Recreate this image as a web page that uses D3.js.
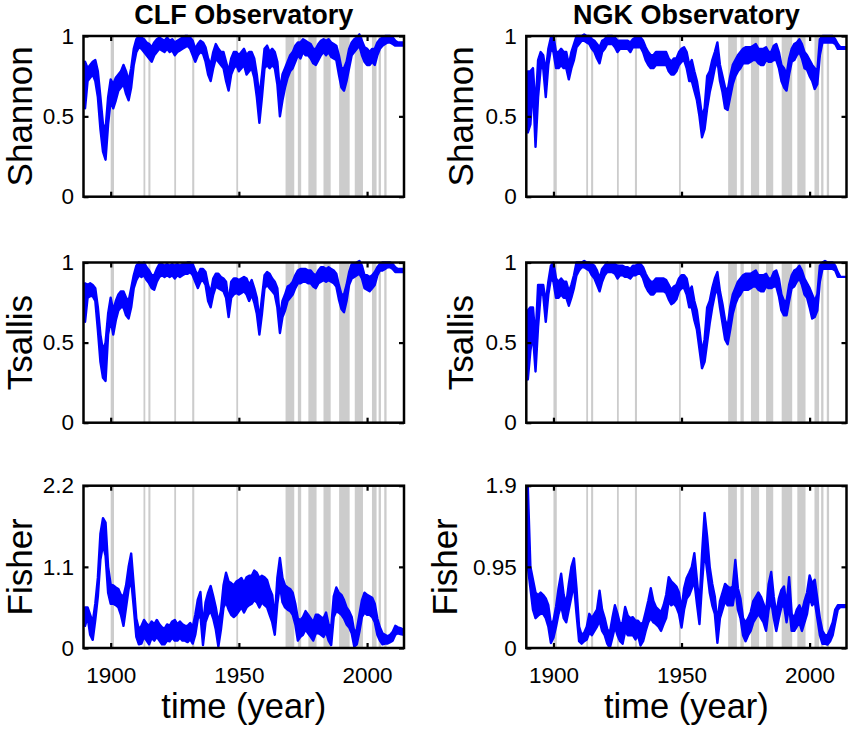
<!DOCTYPE html>
<html><head><meta charset="utf-8">
<script src="https://cdn.jsdelivr.net/npm/d3@7"></script>
<style>
html,body{margin:0;padding:0;background:#fff;}
svg{display:block;font-family:"Liberation Sans",Arial,Helvetica,sans-serif;}
</style>
</head><body>
<svg id="chart" width="851" height="736"></svg>
<script>
// ---------------- data ----------------
const observatories = ["CLF Observatory", "NGK Observatory"];
const measures = ["Shannon", "Tsallis", "Fisher"];
const firstYear = 1890, lastYear = 2014;          // yearly samples of the envelope
const xTicks = [1900, 1950, 2000];
const xDomain = [1889.4, 2014.4];
const yTicksEntropy = [0, 0.5, 1];
const yTicksFisherCLF = [0, 1.1, 2.2];
const yTicksFisherNGK = [0, 0.95, 1.9];

// shaded event intervals [start, end] (years)
const bands = [[1900.0,1901.3],[1912.8,1913.5],[1914.7,1915.5],[1924.8,1925.5],[1931.8,1932.6],
  [1949.0,1949.7],[1968.2,1971.6],[1973.0,1974.3],[1977.1,1980.3],[1983.0,1985.8],
  [1989.1,1993.2],[1995.2,1998.4],[2001.9,2003.7],[2004.5,2005.4],[2006.7,2007.6]];

// CLF Shannon (upper / lower envelope, 1890..2014)
const clfShannonHi = [0.84,0.80,0.82,0.84,0.85,0.78,0.62,0.45,0.42,0.62,
 0.73,0.70,0.74,0.76,0.78,0.82,0.78,0.72,0.80,0.92,
 0.98,1.00,0.99,0.98,0.96,0.95,0.93,0.96,0.98,0.99,
 0.98,0.97,0.99,0.97,0.98,0.96,0.97,0.98,0.99,1.00,
 1.00,0.99,0.97,0.92,0.95,0.97,0.96,0.93,0.86,0.82,
 0.90,0.95,0.92,0.90,0.90,0.84,0.78,0.86,0.90,0.90,
 0.88,0.90,0.92,0.88,0.90,0.90,0.86,0.76,0.62,0.76,
 0.92,0.94,0.90,0.92,0.90,0.84,0.66,0.76,0.80,0.84,
 0.88,0.90,0.94,0.96,0.96,0.98,0.97,0.96,0.95,0.92,
 0.92,0.95,0.97,0.98,0.97,0.98,0.96,0.95,0.94,0.88,
 0.80,0.80,0.84,0.92,0.96,0.98,0.99,1.01,0.97,0.93,
 0.92,0.90,0.92,0.92,0.96,0.98,0.99,1.00,1.00,1.00,
 0.99,0.97,0.96,0.96,0.96];
const clfShannonLo = [0.55,0.72,0.74,0.76,0.72,0.62,0.42,0.28,0.23,0.45,
 0.60,0.55,0.60,0.66,0.68,0.70,0.64,0.60,0.68,0.82,
 0.90,0.93,0.92,0.90,0.88,0.86,0.84,0.88,0.90,0.92,
 0.91,0.90,0.92,0.90,0.91,0.88,0.90,0.91,0.92,0.93,
 0.94,0.92,0.88,0.84,0.88,0.90,0.89,0.84,0.76,0.72,
 0.80,0.86,0.84,0.82,0.80,0.72,0.66,0.76,0.80,0.82,
 0.78,0.80,0.82,0.76,0.78,0.80,0.74,0.62,0.46,0.62,
 0.80,0.82,0.80,0.82,0.80,0.70,0.50,0.60,0.68,0.74,
 0.78,0.80,0.84,0.88,0.86,0.90,0.88,0.88,0.86,0.83,
 0.82,0.85,0.88,0.90,0.88,0.90,0.87,0.86,0.85,0.76,
 0.68,0.66,0.72,0.80,0.88,0.90,0.92,0.94,0.88,0.84,
 0.82,0.82,0.84,0.82,0.88,0.92,0.94,0.95,0.96,0.96,
 0.95,0.94,0.94,0.94,0.94];

// CLF Tsallis
const clfTsallisHi = [0.87,0.86,0.87,0.86,0.84,0.72,0.55,0.45,0.50,0.68,
 0.78,0.70,0.76,0.80,0.82,0.82,0.78,0.76,0.84,0.92,
 0.98,1.00,0.99,1.00,0.97,0.95,0.92,0.92,0.96,0.99,
 0.99,0.98,0.99,0.98,0.99,0.98,0.99,0.98,0.99,0.99,
 1.00,1.00,0.99,0.95,0.92,0.96,0.96,0.94,0.86,0.81,
 0.90,0.93,0.93,0.91,0.90,0.88,0.75,0.88,0.90,0.90,
 0.89,0.90,0.91,0.90,0.86,0.89,0.84,0.78,0.64,0.78,
 0.92,0.94,0.93,0.90,0.88,0.84,0.65,0.76,0.80,0.85,
 0.86,0.88,0.92,0.95,0.96,0.96,0.96,0.95,0.95,0.93,
 0.92,0.95,0.97,0.97,0.96,0.97,0.96,0.95,0.93,0.86,
 0.80,0.80,0.86,0.94,0.99,0.99,1.00,1.01,0.98,0.92,
 0.92,0.91,0.92,0.94,0.97,0.99,1.00,1.00,1.00,1.00,
 0.99,0.97,0.96,0.96,0.96];
const clfTsallisLo = [0.63,0.78,0.79,0.79,0.76,0.58,0.38,0.28,0.26,0.55,
 0.64,0.55,0.64,0.70,0.72,0.72,0.67,0.65,0.72,0.84,
 0.89,0.92,0.91,0.92,0.89,0.87,0.84,0.83,0.88,0.91,
 0.92,0.91,0.92,0.91,0.92,0.90,0.92,0.91,0.92,0.93,
 0.93,0.94,0.92,0.88,0.84,0.88,0.89,0.86,0.76,0.72,
 0.80,0.85,0.84,0.83,0.82,0.78,0.66,0.78,0.80,0.81,
 0.80,0.81,0.82,0.80,0.76,0.80,0.75,0.68,0.55,0.68,
 0.84,0.86,0.84,0.82,0.80,0.72,0.56,0.66,0.70,0.76,
 0.78,0.80,0.84,0.87,0.87,0.88,0.88,0.87,0.87,0.85,
 0.84,0.87,0.88,0.89,0.88,0.89,0.88,0.87,0.85,0.77,
 0.71,0.69,0.76,0.86,0.90,0.91,0.92,0.93,0.90,0.84,
 0.83,0.82,0.84,0.86,0.92,0.95,0.95,0.96,0.97,0.97,
 0.96,0.94,0.94,0.94,0.94];

// CLF Fisher
const clfFisherHi = [0.55,0.55,0.45,0.35,0.60,0.95,1.55,1.76,1.70,1.10,
 0.86,0.85,0.82,0.80,0.72,0.70,0.85,1.10,1.28,0.85,
 0.40,0.25,0.30,0.38,0.33,0.30,0.36,0.32,0.38,0.32,
 0.28,0.26,0.32,0.30,0.36,0.38,0.32,0.36,0.32,0.30,
 0.30,0.34,0.28,0.45,0.66,0.76,0.30,0.62,0.75,0.84,
 0.70,0.55,0.35,0.50,0.85,1.02,0.90,0.88,0.85,0.90,
 0.92,0.95,0.88,0.96,0.98,0.98,1.05,1.02,0.95,0.98,
 0.96,0.92,0.80,0.72,0.40,0.95,1.22,0.95,0.85,0.82,
 0.80,0.75,0.60,0.40,0.38,0.42,0.50,0.45,0.40,0.35,
 0.45,0.45,0.42,0.40,0.48,0.32,0.28,0.70,0.82,0.75,
 0.72,0.65,0.55,0.50,0.42,0.22,0.25,0.45,0.65,0.75,
 0.72,0.70,0.68,0.60,0.40,0.28,0.20,0.18,0.16,0.18,
 0.22,0.30,0.28,0.27,0.25];
const clfFisherLo = [0.30,0.42,0.18,0.11,0.38,0.70,1.20,1.40,1.25,0.75,
 0.60,0.60,0.58,0.55,0.45,0.30,0.55,0.80,0.92,0.55,
 0.15,0.05,0.06,0.15,0.10,0.05,0.14,0.10,0.15,0.10,
 0.05,0.05,0.10,0.09,0.14,0.10,0.10,0.14,0.10,0.10,
 0.08,0.12,0.06,0.18,0.40,0.45,0.04,0.35,0.45,0.50,
 0.40,0.25,0.02,0.25,0.55,0.62,0.52,0.45,0.42,0.45,
 0.50,0.55,0.48,0.55,0.58,0.60,0.65,0.62,0.55,0.62,
 0.58,0.55,0.45,0.35,0.18,0.60,0.85,0.62,0.55,0.52,
 0.50,0.45,0.32,0.10,0.15,0.18,0.25,0.20,0.15,0.10,
 0.20,0.20,0.18,0.15,0.22,0.10,0.04,0.42,0.50,0.48,
 0.45,0.40,0.32,0.28,0.20,0.02,0.05,0.22,0.42,0.48,
 0.45,0.45,0.42,0.35,0.18,0.10,0.05,0.06,0.06,0.08,
 0.10,0.18,0.20,0.19,0.18];

// NGK Shannon
const ngkShannonHi = [0.78,0.78,0.80,0.55,0.85,0.90,0.88,0.78,0.92,0.99,
 1.00,0.90,0.90,0.92,0.90,0.90,0.82,0.90,0.95,1.00,
 1.00,1.00,1.01,1.00,1.00,0.98,0.97,0.95,0.93,0.97,
 0.98,1.00,1.00,1.00,0.99,0.97,0.97,0.97,0.97,0.97,
 0.96,0.98,0.99,0.99,0.99,0.97,0.93,0.90,0.88,0.88,
 0.90,0.90,0.90,0.90,0.90,0.86,0.84,0.86,0.86,0.90,
 0.92,0.93,0.90,0.82,0.85,0.78,0.72,0.62,0.50,0.55,
 0.75,0.78,0.85,0.90,0.96,0.82,0.75,0.68,0.66,0.75,
 0.82,0.85,0.88,0.90,0.92,0.93,0.93,0.93,0.94,0.95,
 0.92,0.92,0.92,0.93,0.90,0.90,0.94,0.95,0.90,0.82,
 0.80,0.76,0.86,0.92,0.95,0.96,0.98,0.95,0.90,0.88,
 0.85,0.82,0.80,0.78,0.98,1.00,1.00,1.00,1.00,1.00,
 0.98,0.95,0.93,0.93,0.93];
const ngkShannonLo = [0.40,0.45,0.70,0.31,0.62,0.80,0.80,0.62,0.82,0.92,
 0.90,0.80,0.80,0.82,0.80,0.80,0.73,0.80,0.85,0.93,
 0.95,0.97,0.97,0.96,0.95,0.92,0.90,0.86,0.83,0.90,
 0.92,0.95,0.95,0.95,0.93,0.90,0.92,0.92,0.92,0.92,
 0.90,0.93,0.93,0.93,0.93,0.90,0.85,0.82,0.80,0.80,
 0.82,0.82,0.82,0.82,0.82,0.78,0.76,0.76,0.78,0.82,
 0.84,0.85,0.80,0.72,0.72,0.66,0.60,0.50,0.37,0.42,
 0.55,0.65,0.72,0.80,0.85,0.72,0.65,0.55,0.54,0.62,
 0.70,0.75,0.78,0.80,0.83,0.83,0.83,0.84,0.85,0.85,
 0.83,0.82,0.82,0.85,0.84,0.84,0.85,0.85,0.80,0.72,
 0.68,0.66,0.76,0.84,0.85,0.88,0.90,0.86,0.80,0.79,
 0.75,0.72,0.67,0.70,0.88,0.96,0.96,0.96,0.96,0.96,
 0.95,0.92,0.92,0.92,0.92];

// NGK Tsallis
const ngkTsallisHi = [0.70,0.72,0.72,0.52,0.86,0.86,0.86,0.75,0.88,0.98,
 1.00,0.90,0.88,0.90,0.88,0.88,0.82,0.86,0.92,1.00,
 1.00,1.00,1.01,1.00,1.00,0.99,0.98,0.95,0.90,0.96,
 0.98,1.00,0.99,0.99,0.99,0.98,0.98,0.98,0.97,0.97,
 0.96,0.98,0.98,0.99,0.99,0.97,0.93,0.90,0.88,0.88,
 0.90,0.90,0.90,0.90,0.89,0.86,0.83,0.85,0.86,0.90,
 0.92,0.92,0.90,0.82,0.85,0.76,0.70,0.58,0.44,0.52,
 0.72,0.76,0.84,0.90,0.94,0.82,0.74,0.64,0.60,0.72,
 0.80,0.84,0.88,0.90,0.92,0.93,0.93,0.93,0.94,0.95,
 0.92,0.92,0.92,0.93,0.90,0.90,0.94,0.95,0.90,0.80,
 0.76,0.76,0.86,0.92,0.95,0.96,0.98,0.95,0.90,0.87,
 0.84,0.80,0.76,0.80,0.98,1.00,1.01,1.00,1.00,1.00,
 0.98,0.94,0.91,0.91,0.91];
const ngkTsallisLo = [0.27,0.45,0.55,0.32,0.60,0.80,0.80,0.63,0.80,0.90,
 0.88,0.78,0.78,0.80,0.78,0.78,0.73,0.78,0.84,0.92,
 0.95,0.97,0.97,0.96,0.95,0.92,0.90,0.86,0.82,0.88,
 0.92,0.94,0.94,0.94,0.93,0.90,0.92,0.92,0.91,0.91,
 0.90,0.92,0.92,0.93,0.93,0.90,0.85,0.82,0.80,0.80,
 0.82,0.82,0.82,0.82,0.81,0.77,0.74,0.75,0.77,0.82,
 0.84,0.84,0.80,0.72,0.72,0.64,0.58,0.46,0.34,0.38,
 0.50,0.62,0.72,0.80,0.84,0.72,0.62,0.52,0.49,0.58,
 0.68,0.74,0.78,0.80,0.83,0.83,0.83,0.84,0.85,0.85,
 0.83,0.82,0.82,0.85,0.84,0.84,0.85,0.85,0.79,0.70,
 0.67,0.67,0.76,0.84,0.85,0.88,0.90,0.86,0.80,0.78,
 0.72,0.65,0.66,0.70,0.88,0.96,0.96,0.96,0.96,0.96,
 0.95,0.91,0.91,0.91,0.91];

// NGK Fisher
const ngkFisherHi = [1.88,0.95,0.80,0.65,0.62,0.65,0.62,0.58,0.50,0.28,
 0.32,0.48,0.70,0.87,0.62,0.52,0.75,0.95,1.05,0.70,
 0.25,0.15,0.18,0.25,0.40,0.35,0.40,0.45,0.67,0.45,
 0.35,0.22,0.18,0.35,0.50,0.40,0.28,0.30,0.48,0.38,
 0.35,0.36,0.32,0.32,0.28,0.30,0.42,0.55,0.70,0.55,
 0.48,0.45,0.42,0.50,0.62,0.83,0.78,0.75,0.72,0.65,
 0.45,0.70,0.82,0.88,0.95,1.11,0.80,0.50,1.10,1.58,
 1.30,0.95,0.75,0.60,0.30,0.55,0.65,0.75,0.72,0.70,
 0.72,1.03,0.70,0.58,0.35,0.30,0.35,0.42,0.55,0.60,
 0.65,0.60,0.52,0.42,0.75,0.89,0.60,0.40,0.58,0.68,
 0.72,0.50,0.83,0.40,0.35,0.45,0.50,0.42,0.55,0.65,
 0.85,0.75,0.80,0.58,0.35,0.20,0.15,0.15,0.22,0.30,
 0.45,0.50,0.50,0.50,0.50];
const ngkFisherLo = [0.95,0.70,0.45,0.35,0.38,0.40,0.40,0.35,0.25,0.06,
 0.12,0.25,0.40,0.50,0.35,0.30,0.45,0.60,0.75,0.40,
 0.08,0.05,0.08,0.10,0.18,0.15,0.20,0.25,0.32,0.20,
 0.15,0.05,0.00,0.12,0.25,0.15,0.08,0.05,0.20,0.15,
 0.15,0.15,0.10,0.15,0.03,0.08,0.20,0.30,0.35,0.30,
 0.28,0.25,0.20,0.28,0.35,0.55,0.50,0.52,0.48,0.40,
 0.24,0.45,0.58,0.62,0.70,0.78,0.52,0.28,0.75,1.15,
 0.90,0.65,0.50,0.40,0.06,0.35,0.45,0.55,0.50,0.50,
 0.50,0.70,0.45,0.35,0.15,0.08,0.15,0.20,0.30,0.35,
 0.40,0.35,0.30,0.20,0.45,0.55,0.35,0.20,0.35,0.48,
 0.50,0.30,0.50,0.20,0.20,0.25,0.30,0.20,0.30,0.40,
 0.60,0.50,0.55,0.35,0.15,0.05,0.05,0.04,0.08,0.15,
 0.30,0.45,0.48,0.48,0.48];

// ---------------- layout ----------------
const svg = d3.select("#chart");
const colX = [[83.5, 404], [526.3, 846.5]];
const rowY = [[36, 196.7], [262.5, 422.7], [485.7, 648]];
const years = d3.range(firstYear, lastYear + 1);

const panels = [
  {c:0, r:0, hi:clfShannonHi, lo:clfShannonLo, ymax:1, ticks:yTicksEntropy, lab:51.8},
  {c:0, r:1, hi:clfTsallisHi, lo:clfTsallisLo, ymax:1, ticks:yTicksEntropy, lab:51.8},
  {c:0, r:2, hi:clfFisherHi,  lo:clfFisherLo,  ymax:2.2, ticks:yTicksFisherCLF, lab:51.8},
  {c:1, r:0, hi:ngkShannonHi, lo:ngkShannonLo, ymax:1, ticks:yTicksEntropy, lab:53},
  {c:1, r:1, hi:ngkTsallisHi, lo:ngkTsallisLo, ymax:1, ticks:yTicksEntropy, lab:53},
  {c:1, r:2, hi:ngkFisherHi,  lo:ngkFisherLo,  ymax:1.9, ticks:yTicksFisherNGK, lab:69.5}
];

const fmtY = v => String(v);

panels.forEach(p => {
  const [x0, x1] = colX[p.c];
  const [y0, y1] = rowY[p.r];
  const x = d3.scaleLinear().domain(xDomain).range([x0, x1]);
  const y = d3.scaleLinear().domain([0, p.ymax]).range([y1, y0]);
  const g = svg.append("g");

  // shaded intervals
  g.selectAll("rect.band").data(bands).join("rect")
    .attr("x", d => x(d[0])).attr("width", d => x(d[1]) - x(d[0]))
    .attr("y", y0).attr("height", y1 - y0)
    .attr("fill", "#cccccc");

  // data envelope
  const area = d3.area()
    .x((d, i) => x(years[i]))
    .y0((d, i) => y(p.lo[i]))
    .y1((d, i) => y(p.hi[i]));
  g.append("path").datum(years).attr("d", area)
    .attr("fill", "#0000ff").attr("stroke", "#0000ff")
    .attr("stroke-width", 2.4).attr("stroke-linejoin", "round");

  // axes (inward ticks)
  const styleAxis = sel => {
    sel.select(".domain").remove();
    sel.selectAll(".tick line").attr("stroke", "#000").attr("stroke-width", 2.2);
    sel.selectAll(".tick text").attr("fill", "#000")
      .style("font-size", "22.5px").style("font-family", '"Liberation Sans", Arial, sans-serif');
  };
  g.append("g").attr("transform", `translate(0,${y1})`)
    .call(d3.axisBottom(x).tickValues(xTicks).tickSize(-5).tickPadding(19)
      .tickFormat(p.r === 2 ? d3.format("d") : () => ""))
    .call(styleAxis);
  g.append("g").attr("transform", `translate(0,${y0})`)
    .call(d3.axisTop(x).tickValues(xTicks).tickSize(-5).tickFormat(() => ""))
    .call(styleAxis);
  g.append("g").attr("transform", `translate(${x0},0)`)
    .call(d3.axisLeft(y).tickValues(p.ticks).tickSize(-5).tickPadding(9.5).tickFormat(fmtY))
    .call(styleAxis);
  g.append("g").attr("transform", `translate(${x1},0)`)
    .call(d3.axisRight(y).tickValues(p.ticks).tickSize(-5).tickFormat(() => ""))
    .call(styleAxis);

  // frame
  g.append("rect").attr("x", x0).attr("y", y0)
    .attr("width", x1 - x0).attr("height", y1 - y0)
    .attr("fill", "none").attr("stroke", "#000").attr("stroke-width", 2.5);

  // y label
  g.append("text")
    .attr("transform", `translate(${x0 - p.lab},${(y0 + y1) / 2}) rotate(-90)`)
    .attr("text-anchor", "middle").style("font-size", "35px").attr("fill", "#000")
    .text(measures[p.r]);

  if (p.r === 0) {
    g.append("text").attr("x", (x0 + x1) / 2).attr("y", 24)
      .attr("text-anchor", "middle").style("font-size", "27px").style("font-weight", "bold")
      .text(observatories[p.c]);
  }
  if (p.r === 2) {
    g.append("text").attr("x", (x0 + x1) / 2).attr("y", 718)
      .attr("text-anchor", "middle").style("font-size", "34.5px")
      .text("time (year)");
  }
});
</script>
</body></html>
